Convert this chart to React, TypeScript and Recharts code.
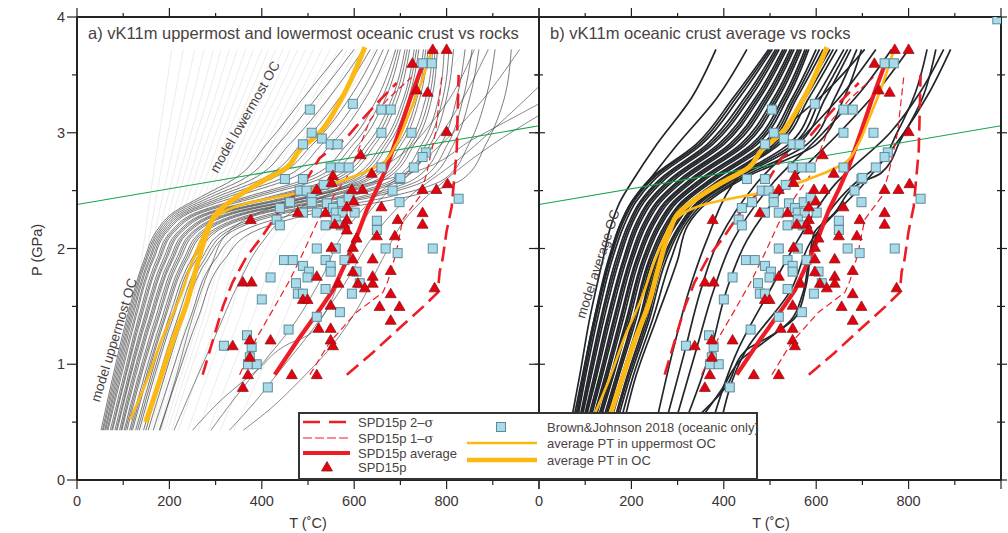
import React from 'react';
import { ComposedChart, Line, Scatter, XAxis, YAxis } from 'recharts';

const FONT = '"Liberation Sans", Arial, Helvetica, sans-serif';
const INK = '#4a4242';
const FRAME = '#232323';
const RED = '#ee1c25';
const ORANGE = '#fcb813';

const xTicks = [0, 100, 200, 300, 400, 500, 600, 700, 800, 900, 1000];
const yTicks = [0, 0.5, 1, 1.5, 2, 2.5, 3, 3.5, 4];

// P-T rocks, [T (C), P (GPa)]
const spdRocks = [
  [770, 3.72], [800, 3.72], [726, 3.6], [735, 3.37], [759, 3.35], [800, 3.01], [614, 2.81], [638, 2.65],
  [554, 2.63], [551, 2.57], [802, 2.56], [748, 2.51], [778, 2.51], [595, 2.51], [618, 2.51], [519, 2.51],
  [599, 2.41], [584, 2.36], [659, 2.36], [376, 2.25], [478, 2.31], [538, 2.31], [748, 2.31], [694, 2.25],
  [584, 2.25], [558, 2.21], [579, 2.21], [748, 2.21], [584, 2.16], [649, 2.11], [688, 2.11], [605, 2.09],
  [551, 2.01], [597, 2.01], [597, 1.91], [640, 1.91], [597, 1.8], [640, 1.76], [519, 1.76], [679, 1.81],
  [359, 1.71], [378, 1.71], [608, 1.7], [640, 1.7], [623, 1.66], [566, 1.7], [489, 1.56], [499, 1.56],
  [549, 1.51], [679, 1.61], [655, 1.5], [698, 1.5], [679, 1.38], [523, 1.31], [549, 1.31], [774, 1.66],
  [374, 1.21], [337, 1.16], [419, 1.21], [549, 1.21], [554, 1.16], [374, 1.06], [370, 0.91], [465, 0.91],
  [519, 0.91], [359, 0.8],
];

const bjRocks = [
  [748, 3.6], [768, 3.6], [504, 3.2], [597, 3.25], [659, 3.2], [679, 3.2], [659, 3.0], [724, 3.0],
  [508, 3.0], [530, 2.95], [489, 2.9], [549, 2.9], [564, 2.9], [755, 2.83], [748, 2.79], [549, 2.7],
  [569, 2.7], [588, 2.7], [729, 2.7], [659, 2.7], [450, 2.6], [489, 2.6], [534, 2.55], [698, 2.6],
  [482, 2.5], [497, 2.5], [683, 2.5], [508, 2.44], [508, 2.4], [461, 2.4], [541, 2.39], [573, 2.4],
  [588, 2.44], [698, 2.4], [439, 2.35], [554, 2.35], [519, 2.31], [489, 2.31], [560, 2.31], [575, 2.31],
  [601, 2.31], [432, 2.25], [538, 2.2], [560, 2.25], [649, 2.24], [439, 2.2], [649, 2.16], [571, 2.2],
  [519, 2.0], [668, 2.0], [770, 2.0], [826, 2.43], [560, 2.0], [694, 1.96], [448, 1.9], [467, 1.9],
  [489, 1.85], [502, 1.8], [499, 1.75], [538, 1.9], [549, 1.85], [549, 1.8], [419, 1.75], [474, 1.7],
  [478, 1.61], [489, 1.61], [538, 1.65], [595, 1.61], [605, 1.8], [612, 1.7], [400, 1.56], [569, 1.45],
  [519, 1.41], [458, 1.3], [368, 1.25], [318, 1.16], [378, 1.15], [374, 1.06], [370, 1.0], [389, 1.0],
  [413, 0.8], [579, 1.9], [700, 2.61],
];
const bjPanelB = [[992, 3.98]];

// SPD15p average and envelopes
const spdAvg = [
  [428, 0.91], [480, 1.22], [525, 1.47], [554, 1.64], [584, 1.9], [605, 2.1], [627, 2.33], [650, 2.52],
  [670, 2.7], [698, 3.02], [720, 3.28], [742, 3.52], [752, 3.62],
];
const spd1sLeft = [
  [352, 0.91], [389, 1.23], [424, 1.47], [461, 1.73], [489, 1.96], [519, 2.22], [555, 2.45], [590, 2.65],
  [612, 2.88], [634, 3.11], [670, 3.28], [724, 3.48],
];
const spd1sRight = [
  [504, 0.91], [547, 1.19], [605, 1.45], [662, 1.62], [673, 1.72], [690, 1.95], [705, 2.25], [742, 2.45],
  [757, 2.65], [776, 3.0], [790, 3.5],
];
const spd2sLeft = [
  [272, 0.91], [316, 1.5], [337, 1.71], [367, 1.93], [400, 2.1], [439, 2.33], [490, 2.55], [525, 2.78],
  [584, 2.96], [612, 3.09], [655, 3.28], [692, 3.43],
];
const spd2sRight = [
  [584, 0.91], [640, 1.1], [700, 1.32], [750, 1.5], [781, 1.62], [785, 1.8], [791, 1.9], [800, 2.15],
  [811, 2.36], [822, 2.85], [826, 3.5],
];

// average PT paths
const avgOC = [
  [149, 0.5], [179, 0.86], [208, 1.21], [238, 1.53], [259, 1.84], [281, 2.13], [303, 2.31], [337, 2.42],
  [396, 2.57], [454, 2.7], [482, 2.85], [525, 3.0], [562, 3.22], [590, 3.43], [612, 3.63], [623, 3.74],
];
const avgUpperOC = [
  [115, 0.52], [151, 0.86], [186, 1.24], [223, 1.58], [251, 1.9], [272, 2.1], [294, 2.25], [324, 2.33],
  [367, 2.39], [439, 2.45], [482, 2.48], [532, 2.53], [597, 2.62], [662, 2.74], [688, 2.88], [713, 3.11],
  [742, 3.4], [759, 3.6], [770, 3.74],
];
const greenLine = [[0, 2.38], [1000, 3.06]];

// model paths, lowermost OC (T at each level of lowerP)
const lowerP = [0.43, 0.9, 1.4, 1.9, 2.2, 2.5, 2.9, 3.3, 3.72];
const lowermostT = [
  [95, 110, 125, 140, 150, 160, 175, 190, 205],
  [97, 114, 131, 150, 161, 174, 192, 211, 230],
  [100, 118, 138, 160, 172, 188, 210, 232, 255],
  [105, 124, 145, 169, 182, 200, 225, 250, 275],
  [110, 130, 152, 178, 192, 212, 240, 268, 295],
  [114, 135, 158, 185, 201, 223, 252, 283, 312],
  [118, 140, 165, 192, 210, 235, 265, 298, 330],
  [121, 145, 171, 198, 219, 246, 278, 313, 347],
  [125, 150, 178, 205, 228, 258, 292, 328, 365],
  [130, 155, 184, 212, 236, 269, 305, 343, 382],
  [135, 160, 190, 220, 245, 280, 318, 358, 400],
  [140, 166, 197, 227, 253, 290, 330, 371, 415],
  [145, 172, 204, 235, 262, 300, 342, 385, 430],
  [150, 178, 211, 242, 271, 311, 355, 400, 446],
  [155, 184, 218, 250, 280, 322, 368, 415, 462],
  [160, 190, 225, 258, 289, 333, 381, 430, 478],
  [165, 196, 232, 266, 298, 345, 395, 445, 495],
  [171, 203, 240, 275, 308, 356, 408, 461, 512],
  [178, 210, 248, 284, 318, 368, 422, 478, 530],
  [184, 217, 256, 293, 328, 380, 436, 494, 548],
  [190, 225, 265, 302, 338, 392, 450, 510, 565],
  [197, 233, 274, 312, 349, 405, 465, 527, 585],
  [205, 242, 284, 322, 360, 418, 480, 545, 605],
  [220, 260, 305, 345, 385, 445, 512, 580, 645],
  [240, 282, 328, 370, 412, 475, 548, 620, 690],
  [262, 305, 352, 396, 440, 508, 585, 665, 740],
  [285, 330, 380, 425, 472, 545, 628, 712, 790],
  [310, 360, 412, 460, 508, 585, 672, 760, 840],
  [340, 395, 450, 500, 550, 630, 720, 810, 895],
];

// model paths, uppermost OC
const upperP = [0.43, 0.9, 1.4, 1.9, 2.15, 2.3, 2.45, 2.6, 2.9, 3.3, 3.72];
const uppermostT = [
  [52, 78, 108, 145, 172, 205, 270, 340, 410, 490, 575],
  [55, 81, 111, 148, 176, 210, 280, 360, 435, 518, 600],
  [57, 84, 114, 151, 180, 216, 292, 380, 460, 545, 620],
  [60, 87, 117, 155, 184, 222, 305, 400, 485, 568, 635],
  [62, 90, 120, 158, 188, 228, 318, 420, 510, 590, 650],
  [65, 93, 124, 162, 192, 234, 330, 440, 530, 608, 663],
  [67, 96, 127, 165, 196, 240, 345, 460, 550, 625, 675],
  [72, 101, 133, 172, 204, 252, 370, 495, 585, 650, 690],
  [75, 104, 136, 176, 208, 258, 382, 510, 598, 660, 695],
  [77, 106, 139, 179, 212, 264, 395, 525, 610, 668, 700],
  [82, 111, 145, 186, 220, 276, 420, 550, 628, 682, 710],
  [85, 114, 148, 190, 224, 282, 430, 560, 637, 688, 715],
  [87, 116, 151, 193, 228, 288, 440, 570, 645, 695, 720],
  [92, 121, 157, 200, 236, 300, 460, 588, 660, 707, 730],
  [95, 124, 160, 204, 240, 306, 470, 596, 667, 712, 735],
  [97, 127, 163, 207, 244, 312, 478, 604, 674, 718, 740],
  [102, 133, 170, 214, 252, 325, 495, 620, 688, 730, 750],
  [105, 136, 174, 218, 256, 332, 504, 628, 695, 736, 755],
  [108, 139, 177, 222, 261, 338, 512, 636, 702, 742, 760],
  [114, 146, 184, 230, 270, 352, 530, 652, 716, 755, 770],
  [117, 150, 188, 234, 275, 359, 540, 660, 723, 762, 775],
  [120, 153, 191, 238, 280, 366, 548, 668, 730, 768, 780],
  [127, 160, 199, 247, 291, 382, 568, 686, 746, 783, 795],
  [131, 164, 204, 252, 297, 391, 580, 696, 756, 792, 805],
  [135, 168, 208, 257, 303, 400, 590, 706, 765, 800, 815],
  [144, 178, 218, 268, 318, 420, 615, 730, 788, 822, 840],
  [149, 184, 224, 275, 327, 432, 630, 745, 802, 836, 855],
  [154, 190, 230, 282, 336, 445, 645, 760, 815, 850, 870],
  [165, 203, 245, 298, 358, 475, 680, 795, 848, 885, 905],
  [178, 218, 262, 318, 385, 510, 720, 835, 885, 925, 940],
];
const uppermostOther = [
  [[250, 0.43], [320, 0.72], [390, 0.95], [460, 1.18], [500, 1.25], [530, 1.4], [570, 1.75], [600, 2.1], [650, 2.4], [720, 2.65], [790, 3.0], [850, 3.4], [890, 3.72]],
  [[290, 0.43], [340, 0.7], [400, 1.0], [470, 1.35], [530, 1.75], [580, 2.15], [660, 2.5], [760, 2.8], [860, 3.2], [958, 3.72]],
  [[330, 0.43], [380, 0.65], [440, 0.95], [510, 1.3], [580, 1.7], [640, 2.1], [720, 2.45], [820, 2.75], [920, 3.1], [1000, 3.4]],
  [[210, 0.43], [250, 0.8], [300, 1.25], [350, 1.7], [400, 2.05], [460, 2.3], [560, 2.5], [680, 2.75], [780, 3.15], [860, 3.72]],
  [[180, 0.43], [215, 0.9], [250, 1.4], [290, 1.85], [330, 2.15], [420, 2.35], [560, 2.5], [720, 2.65], [860, 2.95], [1000, 3.25]],
  [[360, 0.43], [420, 0.62], [480, 0.85], [550, 1.15], [610, 1.5], [660, 1.9], [720, 2.3], [800, 2.6], [900, 2.9], [1000, 3.15]],
];

// model paths, average OC
const avgP = [0.43, 0.9, 1.4, 1.9, 2.2, 2.4, 2.6, 2.9, 3.3, 3.72];
const averageT = [
  [66, 88, 110, 138, 156, 175, 205, 255, 330, 383],
  [70, 94, 120, 152, 175, 200, 240, 300, 385, 450],
  [75, 95, 120, 150, 175, 200, 240, 340, 420, 497],
  [77, 98, 123, 154, 179, 204, 245, 346, 426, 501],
  [79, 101, 127, 158, 184, 209, 251, 352, 433, 505],
  [83, 107, 134, 166, 192, 218, 262, 364, 445, 512],
  [85, 110, 137, 170, 196, 222, 267, 370, 451, 516],
  [87, 113, 141, 174, 200, 227, 273, 376, 457, 520],
  [91, 119, 148, 182, 208, 236, 284, 388, 468, 528],
  [93, 122, 151, 185, 212, 240, 289, 394, 473, 532],
  [95, 125, 155, 189, 216, 245, 295, 400, 478, 536],
  [100, 131, 162, 196, 224, 254, 306, 412, 488, 544],
  [102, 134, 165, 199, 228, 258, 311, 418, 493, 548],
  [105, 137, 169, 203, 232, 263, 317, 424, 498, 552],
  [110, 143, 176, 210, 240, 272, 328, 436, 508, 560],
  [112, 146, 179, 213, 244, 276, 333, 442, 513, 564],
  [115, 149, 183, 217, 248, 281, 339, 448, 518, 568],
  [120, 155, 190, 224, 256, 290, 350, 460, 528, 576],
  [123, 158, 193, 227, 260, 294, 355, 466, 533, 580],
  [126, 161, 197, 231, 264, 299, 361, 472, 538, 584],
  [132, 167, 204, 238, 272, 308, 372, 484, 548, 600],
  [135, 170, 207, 241, 276, 312, 377, 490, 553, 607],
  [138, 173, 211, 245, 280, 317, 383, 496, 558, 615],
  [144, 179, 218, 252, 288, 326, 394, 508, 570, 630],
  [147, 182, 221, 255, 292, 330, 400, 514, 577, 637],
  [150, 185, 225, 259, 296, 335, 405, 520, 584, 645],
  [157, 191, 232, 266, 304, 343, 416, 540, 600, 660],
  [160, 194, 236, 270, 307, 347, 420, 550, 610, 668],
  [164, 198, 240, 275, 311, 351, 425, 560, 620, 675],
  [172, 204, 247, 285, 316, 358, 433, 580, 640, 688],
  [180, 210, 255, 300, 322, 365, 440, 600, 660, 698],
];
const rightP = [0.43, 1.12, 1.64, 2.07, 2.56, 3.0, 3.35, 3.72];
const averageRightT = [
  [250, 290, 325, 363, 420, 520, 620, 705],
  [270, 316, 350, 389, 470, 580, 660, 729],
  [290, 340, 378, 420, 505, 615, 695, 763],
  [310, 372, 406, 450, 540, 650, 730, 800],
  [370, 430, 500, 560, 642, 760, 825, 876],
  [390, 448, 545, 590, 703, 790, 845, 891],
];
const averageOther = [
  [[352, 0.58], [404, 0.8], [448, 1.12], [504, 1.25], [556, 1.41], [577, 1.66], [595, 2.13], [638, 2.3], [697, 2.57], [740, 2.65], [783, 2.94], [830, 3.3], [859, 3.72]],
  [[345, 0.5], [395, 0.78], [440, 1.05], [490, 1.2], [545, 1.38], [570, 1.6], [590, 2.0], [625, 2.3], [680, 2.55], [735, 2.72], [775, 3.0], [815, 3.35], [840, 3.72]],
];

const pts = (pairs: number[][]) => pairs.map(([T, P]) => ({ T, P }));
const onGrid = (Ts: number[], Ps: number[]) => Ts.map((T, i) => ({ T, P: Ps[i] }));

const tickText = { fontFamily: FONT, fontSize: 14.5, fill: '#3b3434' };

function BottomTick({ x, y, payload }: any) {
  const v = payload.value;
  const major = v % 200 === 0;
  return (
    <g>
      <line x1={x} x2={x} y1={y} y2={y + (major ? 9 : 5)} stroke={FRAME} strokeWidth={1.2} />
      {major && v < 1000 && (
        <text x={x} y={y + 21} textAnchor="middle" dominantBaseline="central" style={tickText}>{v}</text>
      )}
    </g>
  );
}

function TopTick({ x, y, payload }: any) {
  const major = payload.value % 200 === 0;
  return <line x1={x} x2={x} y1={y} y2={y - (major ? 9 : 4)} stroke={FRAME} strokeWidth={1.2} />;
}

function LeftTick({ x, y, payload, showLabel }: any) {
  const v = payload.value;
  const major = Number.isInteger(v);
  return (
    <g>
      <line x1={x - (major ? 10 : 5)} x2={x} y1={y} y2={y} stroke={FRAME} strokeWidth={1.2} />
      {showLabel && major && (
        <text x={x - 12} y={y} textAnchor="end" dominantBaseline="central" style={tickText}>{v}</text>
      )}
    </g>
  );
}

function RightTick({ x, y, payload }: any) {
  const major = Number.isInteger(payload.value);
  return <line x1={x - 4} x2={x + (major ? 6 : 4)} y1={y} y2={y} stroke={FRAME} strokeWidth={1.2} />;
}

function Triangle({ cx, cy }: any) {
  return (
    <polygon
      points={`${cx},${cy - 5.5} ${cx - 5.5},${cy + 4} ${cx + 5.5},${cy + 4}`}
      fill="#e3000f" stroke="#8c1a1a" strokeWidth={0.8}
    />
  );
}

function Square({ cx, cy }: any) {
  return <rect x={cx - 4.5} y={cy - 4.5} width={9} height={9} fill="#a8dbea" stroke="#5e8a99" strokeWidth={1} />;
}

const axisLine = { stroke: FRAME, strokeWidth: 2 };

function curves(list: { T: number; P: number }[][], key: string, stroke: string, width: number) {
  return list.map((d, i) => (
    <Line
      key={key + i} xAxisId="b" yAxisId="l" data={d} dataKey="P" type="monotoneY"
      stroke={stroke} strokeWidth={width} dot={false} activeDot={false} isAnimationActive={false}
    />
  ));
}

function path(d: number[][], key: string, stroke: string, width: number, dash?: string, type: any = 'linear') {
  return (
    <Line
      key={key} xAxisId="b" yAxisId="l" data={pts(d)} dataKey="P" type={type}
      stroke={stroke} strokeWidth={width} strokeDasharray={dash} dot={false} activeDot={false}
      isAnimationActive={false}
    />
  );
}

// plot area: x from left to 1008-right, y from 17 to 480 (axes take 1px each)
function Panel({ left, right, showY, models, extraSquares }: any) {
  return (
    <div style={{ position: 'absolute', left: 0, top: 0 }}>
      <ComposedChart width={1008} height={533} margin={{ top: 16, right: right - 1, bottom: 52, left: left - 1 }}>
        <XAxis xAxisId="b" type="number" dataKey="T" domain={[0, 1000]} ticks={xTicks} interval={0}
          allowDataOverflow orientation="bottom" height={1} tickSize={0} tickMargin={0} tickLine={false}
          axisLine={axisLine} tick={(p: any) => <BottomTick {...p} />} />
        <XAxis xAxisId="t" type="number" dataKey="T" domain={[0, 1000]} ticks={xTicks} interval={0}
          allowDataOverflow orientation="top" height={1} tickSize={0} tickMargin={0} tickLine={false}
          axisLine={axisLine} tick={(p: any) => <TopTick {...p} />} />
        <YAxis yAxisId="l" type="number" dataKey="P" domain={[0, 4]} ticks={yTicks} interval={0}
          allowDataOverflow orientation="left" width={1} tickSize={0} tickMargin={0} tickLine={false}
          axisLine={axisLine} tick={(p: any) => <LeftTick {...p} showLabel={showY} />} />
        <YAxis yAxisId="r" type="number" dataKey="P" domain={[0, 4]} ticks={yTicks} interval={0}
          allowDataOverflow orientation="right" width={1} tickSize={0} tickMargin={0} tickLine={false}
          axisLine={axisLine} tick={(p: any) => <RightTick {...p} />} />
        {models}
        {path(greenLine, 'green', '#16a34a', 1.1)}
        {path(spd2sLeft, 's2l', RED, 2.6, '15 7')}
        {path(spd2sRight, 's2r', RED, 2.6, '15 7')}
        {path(spd1sLeft, 's1l', RED, 1.2, '7 4')}
        {path(spd1sRight, 's1r', RED, 1.2, '7 4')}
        {path(spdAvg, 'savg', RED, 4.2)}
        {path(avgOC, 'aoc', ORANGE, 5, undefined, 'monotoneY')}
        {path(avgUpperOC, 'auoc', ORANGE, 2.6, undefined, 'monotoneY')}
        <Scatter xAxisId="b" yAxisId="l" data={pts(bjRocks.concat(extraSquares))} dataKey="P"
          shape={(p: any) => <Square {...p} />} isAnimationActive={false} />
        <Scatter xAxisId="b" yAxisId="l" data={pts(spdRocks)} dataKey="P"
          shape={(p: any) => <Triangle {...p} />} isAnimationActive={false} />
      </ComposedChart>
    </div>
  );
}

const label = { fontFamily: FONT, fill: INK };

function Overlay() {
  const lg = { ...label, fontSize: 13 };
  return (
    <svg width={1008} height={533} style={{ position: 'absolute', left: 0, top: 0, pointerEvents: 'none' }}>
      <text x={88} y={33} dominantBaseline="central" style={{ ...label, fontSize: 16.5 }}>
        a) vK11m uppermost and lowermost oceanic crust vs rocks
      </text>
      <text x={550} y={33} dominantBaseline="central" style={{ ...label, fontSize: 16.5 }}>
        b) vK11m oceanic crust average vs rocks
      </text>
      <text transform="translate(245,117) rotate(-60)" textAnchor="middle" dominantBaseline="central" style={{ ...label, fontSize: 13.5 }}>
        model lowermost OC
      </text>
      <text transform="translate(114,340) rotate(-73)" textAnchor="middle" dominantBaseline="central" style={{ ...label, fontSize: 13.5 }}>
        model uppermost OC
      </text>
      <text transform="translate(598,264) rotate(-72)" textAnchor="middle" dominantBaseline="central" style={{ ...label, fontSize: 13.5 }}>
        model average OC
      </text>
      <text transform="translate(37,250) rotate(-90)" textAnchor="middle" dominantBaseline="central" style={{ ...label, fill: '#3b3434', fontSize: 14.5 }}>
        P (GPa)
      </text>
      <text x={308} y={523} textAnchor="middle" dominantBaseline="central" style={{ ...label, fill: '#3b3434', fontSize: 14.5 }}>T (˚C)</text>
      <text x={771} y={523} textAnchor="middle" dominantBaseline="central" style={{ ...label, fill: '#3b3434', fontSize: 14.5 }}>T (˚C)</text>

      <rect x={299} y={413} width={458} height={66} fill="#fff" stroke="#333" strokeWidth={2} />
      <line x1={303} x2={350} y1={422} y2={422} stroke={RED} strokeWidth={2.6} strokeDasharray="17 9" />
      <text x={358} y={422} dominantBaseline="central" style={lg}>SPD15p 2–<tspan fontFamily="DejaVu Serif, serif">σ</tspan></text>
      <line x1={303} x2={350} y1={438} y2={438} stroke={RED} strokeWidth={1.2} strokeDasharray="9 3" />
      <text x={358} y={438} dominantBaseline="central" style={lg}>SPD15p 1–<tspan fontFamily="DejaVu Serif, serif">σ</tspan></text>
      <line x1={303} x2={350} y1={453} y2={453} stroke={RED} strokeWidth={4.2} />
      <text x={358} y={453} dominantBaseline="central" style={lg}>SPD15p average</text>
      <Triangle cx={327} cy={467} />
      <text x={358} y={467} dominantBaseline="central" style={lg}>SPD15p</text>
      <Square cx={501} cy={427} />
      <text x={547} y={427} dominantBaseline="central" style={lg}>Brown&amp;Johnson 2018 (oceanic only)</text>
      <line x1={467} x2={537} y1={443} y2={443} stroke={ORANGE} strokeWidth={2.6} />
      <text x={547} y={443} dominantBaseline="central" style={lg}>average PT in uppermost OC</text>
      <line x1={467} x2={537} y1={460} y2={460} stroke={ORANGE} strokeWidth={4.5} />
      <text x={547} y={460} dominantBaseline="central" style={lg}>average PT in OC</text>
    </svg>
  );
}

export default function App() {
  const modelsA = [
    ...curves(lowermostT.map((t) => onGrid(t, lowerP)), 'lo', '#d4d8db', 0.5),
    ...curves(uppermostT.map((t) => onGrid(t, upperP)), 'up', '#262626', 0.6),
    ...curves(uppermostOther.map(pts), 'upo', '#3a3a3a', 0.6),
  ];
  const modelsB = [
    ...curves(averageT.map((t) => onGrid(t, avgP)), 'av', '#22262a', 1.7),
    ...curves(averageRightT.map((t) => onGrid(t, rightP)), 'avr', '#22262a', 1.7),
    ...curves(averageOther.map(pts), 'avo', '#22262a', 1.7),
  ];
  return (
    <div style={{ position: 'absolute', left: 0, top: 0, width: 1008, height: 533, background: '#fff' }}>
      <Panel left={77} right={469} showY models={modelsA} extraSquares={[]} />
      <Panel left={539} right={7} showY={false} models={modelsB} extraSquares={bjPanelB} />
      <Overlay />
    </div>
  );
}
